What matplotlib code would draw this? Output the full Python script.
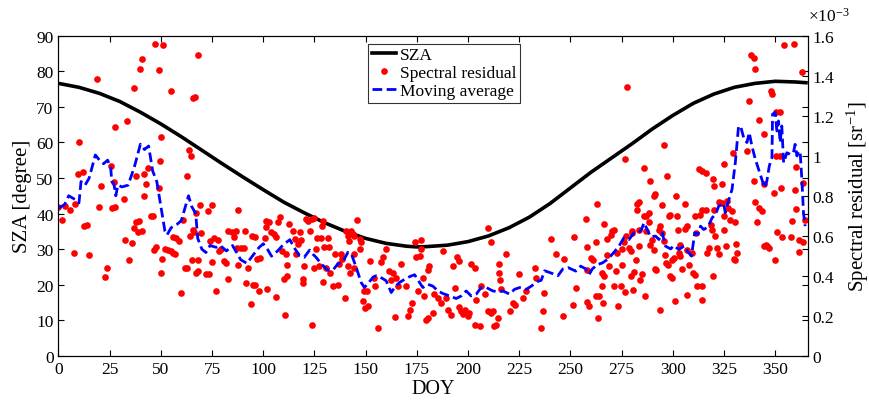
import matplotlib
matplotlib.use('Agg')
import matplotlib.pyplot as plt
from matplotlib.ticker import FuncFormatter

plt.rcParams['font.family'] = ['Liberation Serif', 'DejaVu Serif']
plt.rcParams['mathtext.fontset'] = 'custom'
plt.rcParams['mathtext.rm'] = 'Liberation Serif'
plt.rcParams['mathtext.it'] = 'Liberation Serif:italic'

# solar zenith angle (degree) by day of year
sza_doy = [1, 10, 20, 30, 40, 50, 60, 70, 80, 90, 100, 110, 120, 130, 140, 150, 160, 170, 175,
           180, 190, 200, 210, 220, 230, 240, 250, 260, 270, 280, 290, 300, 310, 320, 330, 340,
           350, 360, 365]
sza_deg = [76.5, 75.5, 73.8, 71.5, 68.5, 65.2, 61.6, 57.8, 54.0, 50.3, 46.7, 43.2, 40.2, 37.4,
           35.0, 33.0, 31.6, 30.8, 30.6, 30.7, 31.1, 32.1, 33.7, 36.0, 39.0, 42.8, 47.2, 51.6,
           55.6, 59.6, 63.8, 67.6, 71.0, 73.6, 75.5, 76.6, 77.2, 77.0, 76.8]

# spectral residual (x1e-3 sr^-1)
res_doy = [0, 1.6, 3, 5.7, 7.7, 8, 9.6, 10, 11.8, 12.6, 13.7, 14.7, 18.8, 19.6, 20.8, 22.9,
           23.7, 25.7, 26, 27.8, 27.8, 27, 31.9, 33.7, 32.7, 34.6, 35.8, 36.8, 37, 38, 38, 39.3,
           38.7, 40.6, 39.7, 40.7, 41.7, 41.9, 42.8, 43.8, 45.1, 46, 46.9, 46.5, 47.6, 49, 49,
           49.8, 50, 50.2, 50.7, 51, 51.8, 53.4, 55, 54.9, 55.9, 57, 55.9, 57.5, 59, 60, 60.8,
           61.6, 62.7, 62.7, 63.7, 64.8, 64, 65, 65.7, 66.5, 65.7, 66.2, 67, 67, 68, 68.2, 68,
           69, 69.6, 72.2, 73.5, 72.9, 74.8, 73.9, 75, 76, 78, 76.8, 78.6, 79.5, 80.9, 82, 82.8,
           82.7, 84.5, 85.8, 86.9, 87.2, 87.9, 87.9, 89, 91, 90.7, 91.8, 92.6, 94, 94.6, 96.2,
           95, 96, 97, 98.4, 98, 100.8, 101.1, 101.1, 102, 102.8, 104, 105.2, 106.2, 106, 107,
           108, 109, 110, 110.6, 111.4, 111.7, 112.7,
           111.2, 114.7, 115.7, 116, 116.9, 117.7, 118.5, 119.3, 119.6, 120.1, 120.9, 121.7,
           122.6, 123.9, 125, 123.9, 125, 125.8, 126.1, 127.1, 128.3, 128.7, 129.4, 129.1,
           129.9, 130.7, 131.5, 132, 132.7, 134, 134.8, 136.4, 137.2, 138, 138.5, 139.7, 140.5,
           141.3, 142.1, 141.3, 142.4, 142.9, 143.7, 144.5, 144.5, 144.5, 145.7, 147, 147,
           147.8, 148.6, 149.9, 151.1, 149.4, 150.6, 151.9, 154, 154.8, 156, 157.6, 158.7,
           159.7, 161.3, 162.5, 164.1, 163.3, 164.9, 165.7, 167.3, 169.8, 170.6, 171.7, 172.7,
           173.9, 174.7, 175.5, 176.3, 177.1, 177.1, 177.9, 178.7, 179.6, 180.4, 180.4, 180.9,
           182.8, 183.6, 185.3, 186.9, 187.7, 189.3, 190.1, 191.8, 192.6, 194.7, 195.8, 193.4,
           195.8, 196.7, 197.5, 198.3, 199.9, 200.7, 201.5, 203.2, 203.2, 204, 205.6, 206.4,
           208.1, 209.7, 209.7, 211.3, 211.3, 212.1, 212.9, 213.8, 214.6, 214.9, 215.1, 215.4,
           216.2, 218.6, 220.3, 221.9, 222.7, 224.8, 226.8, 228.4, 232.5, 233, 235.7, 236.6,
           237.1, 240.6, 243.1, 246.3, 246.8, 251.7, 251.3, 252.9,
           258.3, 257.5, 258, 258, 259, 260, 260.8, 262.3, 263, 262.3, 263.9, 263.6, 265.3,
           265.6, 266.4, 266, 266.4, 268, 268, 268.9, 269.7, 270.5, 271.3, 271.3, 272.5, 272.1,
           273.4, 274.5, 275.3, 275.3, 276.1, 276.9, 276.6, 277.8, 276.6, 278.6, 279.4, 279.9,
           280.2, 279.4, 280.5, 281, 281.8, 282.6, 283.4, 282.6, 283.4, 283.4, 284.2, 284.7,
           285.9, 286.4, 285.9, 286.7, 287, 288.3, 288.3, 289, 289, 289.9, 290.7, 290.7, 291.5,
           291.2, 291.9, 293, 293.8, 293.5, 294.5, 294.8, 295.6, 295.6, 296.4, 296.7, 297.2,
           298, 298.8, 297.7, 298.4, 299.4, 299.7, 300.5, 301, 301.3, 302.1, 302.6, 302.9,
           303.7, 303.7, 304.5, 305.8, 306.1, 306.9, 306.9, 307.7, 307, 309.4, 309.7, 310.7,
           311, 311.3, 311.7, 312.7, 314.3, 313.5, 314.3, 314, 314.3, 316.2, 316.2, 316.7,
           317.5, 318.4, 318.9, 319.5, 319.5,
           320, 320.3, 320.8, 321.6, 322.5, 322.4, 323.9, 324.8, 324, 324.9, 325.2, 326, 326.5,
           327, 328, 328.9, 329.3, 329.7, 330.5, 330.5, 331, 331.5, 336.2, 337.4, 338.3, 339.5,
           340.3, 339.5, 340.3, 341, 342.3, 342, 343.5, 344.3, 344.5, 344.7, 345.5, 346, 347,
           348, 348.5, 349.4, 350, 350.3, 350.3, 350.8, 352.4, 352.4, 352.6, 353.3, 354.2,
           357.6, 358.2, 359, 359.5, 360.3, 360.3, 361.5, 361.7, 363.3, 363.6, 364.3, 363.8]
res_val = [0.743, 0.681, 0.747, 0.731, 0.514, 0.759, 0.907, 1.07, 0.919, 0.649, 0.654, 0.505,
           1.385, 0.743, 0.848, 0.395, 0.441, 0.948, 0.74, 0.743, 1.143, 0.871, 0.784, 1.173,
           0.58, 0.48, 0.565, 0.64, 1.34, 0.898, 0.67, 0.672, 0.619, 0.626, 1.433, 1.483, 0.908,
           0.798, 0.857, 0.937, 0.699, 0.70, 1.557, 0.53, 0.542, 0.837, 1.428, 0.972, 1.095,
           0.412, 0.482, 1.552, 0.533, 0.53, 0.523, 1.326, 0.512, 0.51, 0.596, 0.587, 0.574,
           0.316, 0.677, 0.441, 0.441, 0.90, 1.029, 0.997, 0.597, 0.478, 1.287, 1.294, 0.629,
           0.617, 0.713, 0.414, 0.425, 0.478, 1.504, 0.754, 0.612, 0.409, 0.409, 0.722, 0.752,
           0.572, 0.471, 0.59, 0.58, 0.324, 0.526, 0.535, 0.475, 0.462, 0.382, 0.622, 0.62,
           0.592, 0.622, 0.54, 0.729, 0.455, 0.54, 0.626, 0.54, 0.366, 0.441, 0.26, 0.597,
           0.596, 0.356, 0.356, 0.485, 0.491, 0.325, 0.588, 0.642, 0.676, 0.336, 0.667, 0.617,
           0.608, 0.594, 0.295, 0.668, 0.695, 0.524, 0.382, 0.203, 0.453, 0.40, 0.658,
           0.508, 0.626, 0.585, 0.508, 0.559, 0.618, 0.579, 0.383, 0.366, 0.45, 0.685, 0.673,
           0.626, 0.685, 0.69, 0.156, 0.441, 0.534, 0.589, 0.45, 0.589, 0.651, 0.676, 0.371,
           0.542, 0.441, 0.589, 0.542, 0.416, 0.349, 0.508, 0.354, 0.459, 0.508, 0.484, 0.29,
           0.626, 0.601, 0.576, 0.45, 0.416, 0.623, 0.61, 0.601, 0.508, 0.441, 0.681, 0.585,
           0.534, 0.567, 0.274, 0.24, 0.249, 0.324, 0.324, 0.475, 0.391, 0.349, 0.139, 0.467,
           0.492, 0.534, 0.425, 0.377, 0.194, 0.416, 0.391, 0.349, 0.459, 0.349, 0.198, 0.231,
           0.265, 0.567, 0.492, 0.324, 0.5, 0.579, 0.534, 0.391, 0.299, 0.181, 0.19, 0.428,
           0.45, 0.215, 0.307, 0.29, 0.265, 0.526, 0.29, 0.231, 0.206, 0.45, 0.496, 0.475,
           0.341, 0.244, 0.224, 0.21, 0.231, 0.198, 0.215, 0.459, 0.441, 0.156, 0.279, 0.148,
           0.349, 0.307, 0.224, 0.638, 0.567, 0.215, 0.224, 0.148, 0.156, 0.19, 0.459, 0.416,
           0.377, 0.332, 0.508, 0.224, 0.265, 0.254, 0.407, 0.29, 0.324, 0.441, 0.391, 0.139,
           0.224, 0.316, 0.585, 0.508, 0.198, 0.484, 0.592, 0.256, 0.341,
           0.43, 0.685, 0.545, 0.27, 0.247, 0.49, 0.48, 0.57, 0.76, 0.30, 0.30, 0.19, 0.35,
           0.414, 0.397, 0.264, 0.66, 0.585, 0.506, 0.45, 0.606, 0.623, 0.63, 0.35, 0.514,
           0.422, 0.25, 0.35, 0.456, 0.534, 0.568, 0.598, 0.982, 1.346, 0.317, 0.539, 0.523,
           0.615, 0.623, 0.40, 0.33, 0.417, 0.481, 0.76, 0.768, 0.73, 0.63, 0.547, 0.381, 0.411,
           0.94, 0.297, 0.698, 0.70, 0.623, 0.668, 0.715, 0.873, 0.556, 0.581, 0.531, 0.80,
           0.807, 0.434, 0.427, 0.631, 0.648, 0.23, 0.753, 0.615, 0.573, 1.052, 0.506, 0.464,
           0.899, 0.698, 0.706, 0.452, 0.397, 0.389, 0.481, 0.489, 0.272, 0.798, 0.698, 0.631,
           0.514, 0.498, 0.556, 0.434, 0.76, 0.634, 0.648, 0.531, 0.456, 0.305, 0.514, 0.414,
           0.406, 0.70, 0.615, 0.35, 0.932, 0.924, 0.706, 0.728, 0.28, 0.35, 0.912, 0.731,
           0.514, 0.539, 0.656, 0.631, 0.882, 0.40,
           0.85, 0.73, 0.60, 0.54, 0.51, 0.767, 0.86, 0.957, 0.765, 0.70, 0.63, 0.55, 0.775,
           0.74, 0.68, 0.725, 1.013, 0.483, 0.48, 0.67, 0.56, 0.515, 1.025, 1.275, 1.503, 1.487,
           1.433, 0.875, 0.77, 0.67, 1.18, 0.74, 0.725, 0.547, 1.107, 0.858, 0.555, 0.55, 0.54,
           1.325, 1.31, 0.813, 0.478, 1.217, 0.997, 0.62, 1.217, 1.0, 0.837, 0.592, 1.553,
           0.592, 0.673, 1.558, 0.83, 0.942, 0.733, 0.52, 0.58, 1.42, 0.863, 0.68, 0.57]

# moving average of the residual (x1e-3 sr^-1)
ma_doy = [0, 3, 5, 8, 10, 11, 13, 15, 18, 20, 22, 24, 25.5, 26, 27, 28, 29, 31, 34, 37, 40, 42,
          44, 46, 48, 50, 52, 53, 55, 58, 60, 62, 63.5, 65, 67, 68, 70, 72, 74, 77, 79, 82, 85,
          87, 89, 92, 94, 96, 98, 100, 102, 104, 107, 110, 113, 115, 117.7, 120, 122.6, 124.2,
          125.8, 128.3, 131.5, 134, 136.4, 138.8, 141.3, 142.9, 145.4, 147.8, 149.4, 151.1,
          153.5, 155.1, 156.8, 160, 162.5, 164.1, 166.5, 169, 171.4, 173.9, 176.3, 177.9,
          180.4, 182.8, 185.3, 187.7, 191, 194.2, 196.7, 199.1, 201.5, 204, 206.4, 208.9,
          212.1, 214.6, 217, 220.3, 222.7, 225.2, 228.4, 230.9, 234.1, 235.7, 237.4, 239.8,
          242.3, 243.9, 246.3, 248.8, 252.6, 255, 257.5, 259.1, 260.7, 263.2, 265.6, 268,
          269.6, 271.3, 273.7, 276.1, 278.6, 281, 283.4, 284.7, 285.9, 287.5, 289.1, 291.6,
          293.2, 294.8, 296.4, 298.9, 300.5, 302.9, 305.4, 307.8, 309.1, 310.7, 312.3, 313.5,
          315.1, 317.2, 319.2, 320.8, 322.4, 324.8, 325.6, 327, 328.9, 330.5, 332.1, 333.3,
          334.6, 336.2, 337.3, 338.6, 340.3, 341.9, 343.5, 344.8, 345.9, 347.1, 348.4, 348.7,
          350, 350.8, 351.6, 352.4, 353.2, 354.1, 355.7, 357.3, 358.9, 359.7, 360.6, 361.4,
          362.2, 363, 363.8, 364.6]
ma_val = [0.738, 0.756, 0.80, 0.782, 0.764, 0.871, 0.853, 0.889, 1.004, 0.978, 0.96, 0.978,
          0.942, 0.871, 0.862, 0.80, 0.853, 0.844, 0.853, 0.942, 1.058, 1.031, 1.049, 0.924,
          0.871, 0.747, 0.622, 0.604, 0.64, 0.658, 0.676, 0.747, 0.80, 0.747, 0.711, 0.587,
          0.533, 0.516, 0.551, 0.542, 0.551, 0.524, 0.551, 0.516, 0.48, 0.462, 0.489, 0.516,
          0.542, 0.56, 0.533, 0.498, 0.524, 0.558, 0.58, 0.542, 0.50, 0.492, 0.528, 0.508,
          0.492, 0.459, 0.428, 0.428, 0.459, 0.468, 0.517, 0.512, 0.441, 0.366, 0.341, 0.361,
          0.391, 0.40, 0.395, 0.375, 0.316, 0.341, 0.366, 0.382, 0.395, 0.405, 0.366, 0.341,
          0.357, 0.348, 0.324, 0.311, 0.299, 0.286, 0.299, 0.324, 0.299, 0.308, 0.341, 0.341,
          0.324, 0.32, 0.324, 0.308, 0.332, 0.341, 0.332, 0.348, 0.372, 0.377, 0.425, 0.416,
          0.407, 0.40, 0.434, 0.441, 0.423, 0.448, 0.434, 0.406, 0.434, 0.456, 0.464, 0.481,
          0.498, 0.518, 0.548, 0.59, 0.581, 0.615, 0.615, 0.631, 0.665, 0.631, 0.595, 0.598,
          0.581, 0.615, 0.548, 0.534, 0.551, 0.531, 0.548, 0.514, 0.498, 0.615, 0.606, 0.648,
          0.631, 0.645, 0.69, 0.706, 0.748, 0.762, 0.715, 0.768, 0.832, 0.965, 1.149, 1.14,
          1.09, 1.066, 1.116, 1.049, 0.982, 0.932, 0.882, 0.84, 0.873, 0.949, 0.99, 1.208,
          1.216, 1.124, 1.174, 1.066, 1.149, 0.965, 1.015, 1.007, 1.015, 1.057, 0.999, 1.024,
          1.015, 0.882, 0.715, 0.648]

x_ticks = list(range(0, 351, 25))
sza_ticks = list(range(0, 91, 10))
res_ticks = [0, 0.2, 0.4, 0.6, 0.8, 1.0, 1.2, 1.4, 1.6]

fig = plt.figure(figsize=(8.69, 4.06), dpi=100)
ax1 = fig.add_axes([0.0673, 0.1214, 0.8625, 0.788])
ax2 = ax1.twinx()

l1, = ax1.plot(sza_doy, sza_deg, color='black', linewidth=2.6, label='SZA')
l2, = ax2.plot(res_doy, res_val, 'o', color='red', markersize=4.8, markeredgewidth=0,
               label='Spectral residual')
l3, = ax2.plot(ma_doy, ma_val, '--', color='blue', linewidth=2, dashes=(3.5, 1.6),
               label='Moving average')

ax1.set_xlim(0, 366)
ax1.set_ylim(0, 90)
ax2.set_ylim(0, 1.6)
ax1.set_xticks(x_ticks)
ax1.set_yticks(sza_ticks)
ax2.set_yticks(res_ticks)
ax2.yaxis.set_major_formatter(FuncFormatter(lambda v, p: '{:g}'.format(v)))

ax1.tick_params(direction='in', top=True, right=True, labelsize=12.5, length=4, width=0.8)
ax2.tick_params(direction='in', labelsize=12.5, length=4, width=0.8)
for ax in (ax1, ax2):
    for s in ax.spines.values():
        s.set_linewidth(0.8)

ax1.set_xlabel('DOY', fontsize=14.5, labelpad=2)
ax1.set_ylabel('SZA [degree]', fontsize=15, labelpad=3)
ax2.set_ylabel('Spectral residual [sr$^{-1}$]', fontsize=15, labelpad=7)
ax2.text(1.0, 1.035, r'$\times$10$^{-3}$', transform=ax2.transAxes, fontsize=12.5,
         ha='left', va='bottom')

leg = ax2.legend(handles=[l1, l2, l3], loc='upper left', bbox_to_anchor=(0.4135, 0.975),
                 fontsize=12.5, frameon=True, fancybox=False, edgecolor='black',
                 handlelength=1.4, handletextpad=0.2, borderpad=0.2, labelspacing=0.1,
                 borderaxespad=0)
leg.get_frame().set_linewidth(0.8)

fig.savefig('out.png', dpi=100)
